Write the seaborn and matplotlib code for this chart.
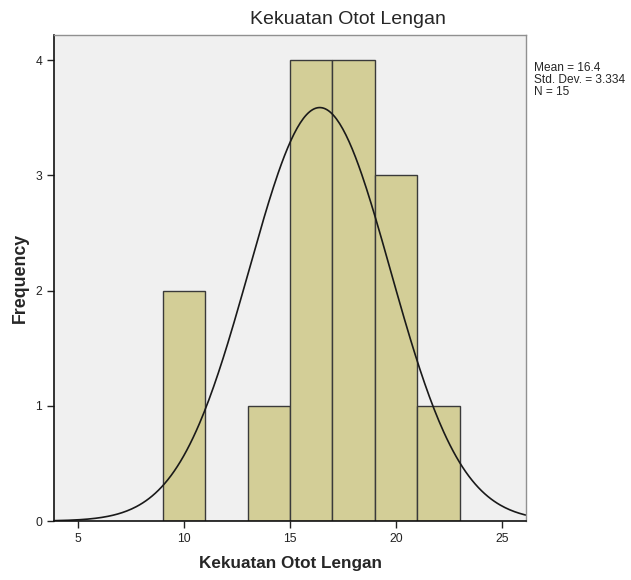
import matplotlib
matplotlib.use("Agg")
import matplotlib.pyplot as plt
import seaborn as sns
import numpy as np

# histogram data
bin_edges = [9, 11, 13, 15, 17, 19, 21, 23]
bin_centers = [10, 12, 14, 16, 18, 20, 22]
counts = [2, 0, 1, 4, 4, 3, 1]
mean_val = 16.4
std_val = 3.334
n_val = 15

sns.set_style("white")
plt.rcParams['font.family'] = ['Liberation Sans', 'DejaVu Sans']

fig = plt.figure(figsize=(6.31, 5.8), dpi=100)
ax = fig.add_axes([0.0856, 0.1017, 0.748, 0.838])
ax.set_facecolor('#f0f0f0')

sns.histplot(x=bin_centers, weights=counts, bins=bin_edges, ax=ax,
             color='#d3ce97', edgecolor='#3a3a3a', linewidth=1.0, alpha=1)

# fitted normal curve scaled to counts
bw = bin_edges[1] - bin_edges[0]
xs = np.linspace(3.9, 26.1, 300)
ys = n_val * bw * np.exp(-0.5 * ((xs - mean_val) / std_val) ** 2) / (std_val * np.sqrt(2 * np.pi))
sns.lineplot(x=xs, y=ys, ax=ax, color='#1a1a1a', linewidth=1.2)

ax.set_xlim(3.88, 26.12)
ax.set_ylim(0, 4.22)
ax.set_xticks([5, 10, 15, 20, 25])
ax.set_yticks([0, 1, 2, 3, 4])
ax.tick_params(axis='both', direction='out', length=5, width=1, labelsize=8.7,
               colors='#222222', left=True, bottom=True)
for s in ['left', 'bottom']:
    ax.spines[s].set_color('#111111')
    ax.spines[s].set_linewidth(1.2)
for s in ['top', 'right']:
    ax.spines[s].set_color('#909090')
    ax.spines[s].set_linewidth(1.0)

fig.text(0.552, 0.958, 'Kekuatan Otot Lengan', fontsize=14, ha='center', va='baseline')
ax.set_xlabel('Kekuatan Otot Lengan', fontsize=12.3, fontweight='bold', labelpad=8)
ax.set_ylabel('Frequency', fontsize=12.8, fontweight='bold', labelpad=5)

fig.text(0.846, 0.893, f'Mean = {mean_val}\nStd. Dev. = {std_val}\nN = {n_val}',
         fontsize=8.6, va='top', ha='left', linespacing=1.0)

fig.savefig('out.png', dpi=100)
